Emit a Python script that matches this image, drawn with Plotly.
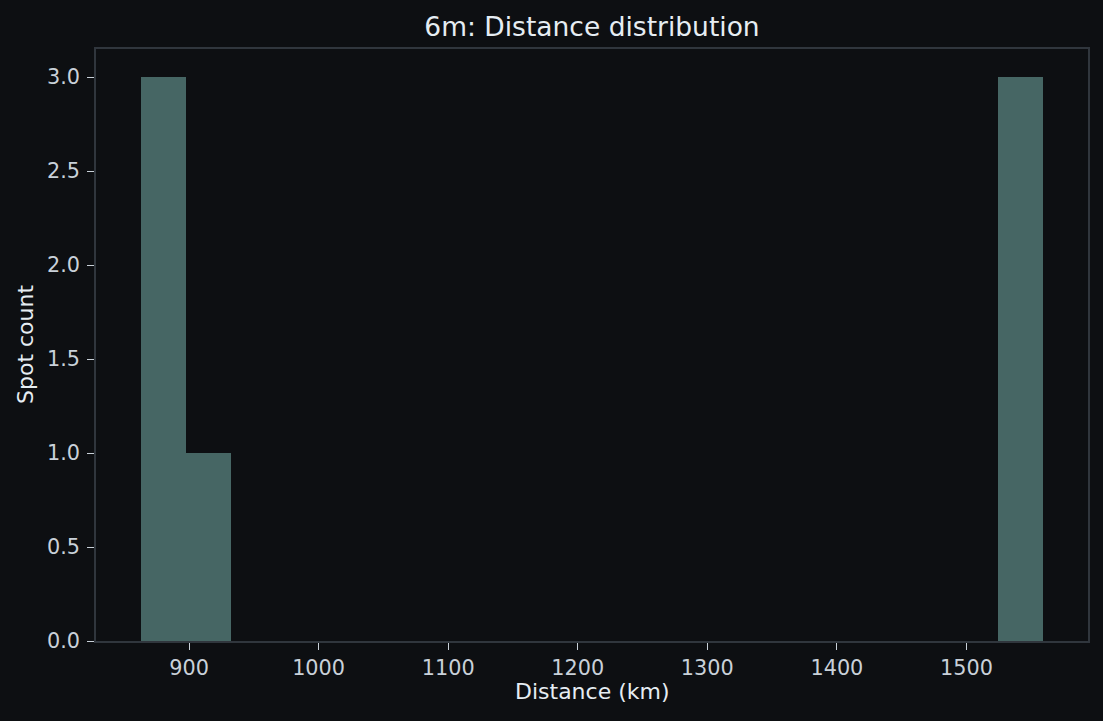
import plotly.graph_objects as go

# Histogram data (20 equal bins between min and max distance)
distance_min = 863.0
distance_max = 1559.0
n_bins = 20
counts = [3, 1, 0, 0, 0, 0, 0, 0, 0, 0, 0, 0, 0, 0, 0, 0, 0, 0, 0, 3]
x_ticks = [900, 1000, 1100, 1200, 1300, 1400, 1500]
y_ticks = [0.0, 0.5, 1.0, 1.5, 2.0, 2.5, 3.0]

bin_width = (distance_max - distance_min) / n_bins
centers = [distance_min + bin_width * (i + 0.5) for i in range(n_bins)]

span = distance_max - distance_min
x_range = [distance_min - 0.05 * span, distance_max + 0.05 * span]
y_range = [0, max(counts) * 1.05]

BG = "#0d0f12"
SPINE = "#30363d"
TICK = "#c9d1d9"
TEXT = "#e6edf3"
FONT = "DejaVu Sans"
TICK_SIZE = 20.8
LABEL_SIZE = 22

fig = go.Figure(
    go.Bar(
        x=centers,
        y=counts,
        width=[bin_width] * n_bins,
        marker=dict(color="#466664", line=dict(width=0)),
        hoverinfo="x+y",
    )
)

fig.update_layout(
    width=1103,
    height=721,
    paper_bgcolor=BG,
    plot_bgcolor=BG,
    margin=dict(l=96, r=15, t=49, b=80),
    showlegend=False,
    bargap=0,
    font=dict(family=FONT, color=TICK, size=TICK_SIZE),
    title=dict(
        text="6m: Distance distribution",
        xref="paper", x=0.5, xanchor="center",
        yref="container", y=1 - 27 / 721, yanchor="middle",
        font=dict(family=FONT, size=26.5, color=TEXT),
    ),
    annotations=[
        dict(text="Distance (km)", xref="paper", yref="paper", x=0.5, y=0,
             yshift=-50, xanchor="center", yanchor="middle", showarrow=False,
             font=dict(family=FONT, size=LABEL_SIZE, color=TEXT)),
        dict(text="Spot count", xref="paper", yref="paper", x=0, y=0.5,
             xshift=-71, xanchor="center", yanchor="middle", textangle=-90,
             showarrow=False, font=dict(family=FONT, size=LABEL_SIZE, color=TEXT)),
    ],
)

fig.update_xaxes(
    range=x_range,
    tickvals=x_ticks,
    ticktext=[str(v) for v in x_ticks],
    ticks="outside",
    ticklen=7,
    tickwidth=1.3,
    tickcolor=TICK,
    ticklabelstandoff=0,
    tickfont=dict(family=FONT, size=TICK_SIZE, color=TICK),
    showgrid=False,
    zeroline=False,
    showline=True,
    mirror=True,
    linecolor=SPINE,
    linewidth=1.5,
    automargin=False,
)
fig.update_yaxes(
    range=y_range,
    tickvals=y_ticks,
    ticktext=[f"{v:.1f}" for v in y_ticks],
    ticks="outside",
    ticklen=7,
    tickwidth=1.3,
    tickcolor=TICK,
    ticklabelstandoff=3,
    tickfont=dict(family=FONT, size=TICK_SIZE, color=TICK),
    showgrid=False,
    zeroline=False,
    showline=True,
    mirror=True,
    linecolor=SPINE,
    linewidth=1.5,
    automargin=False,
)

fig.write_html("out.html", config={"displayModeBar": False},
               post_script="document.body.style.margin='0';")
